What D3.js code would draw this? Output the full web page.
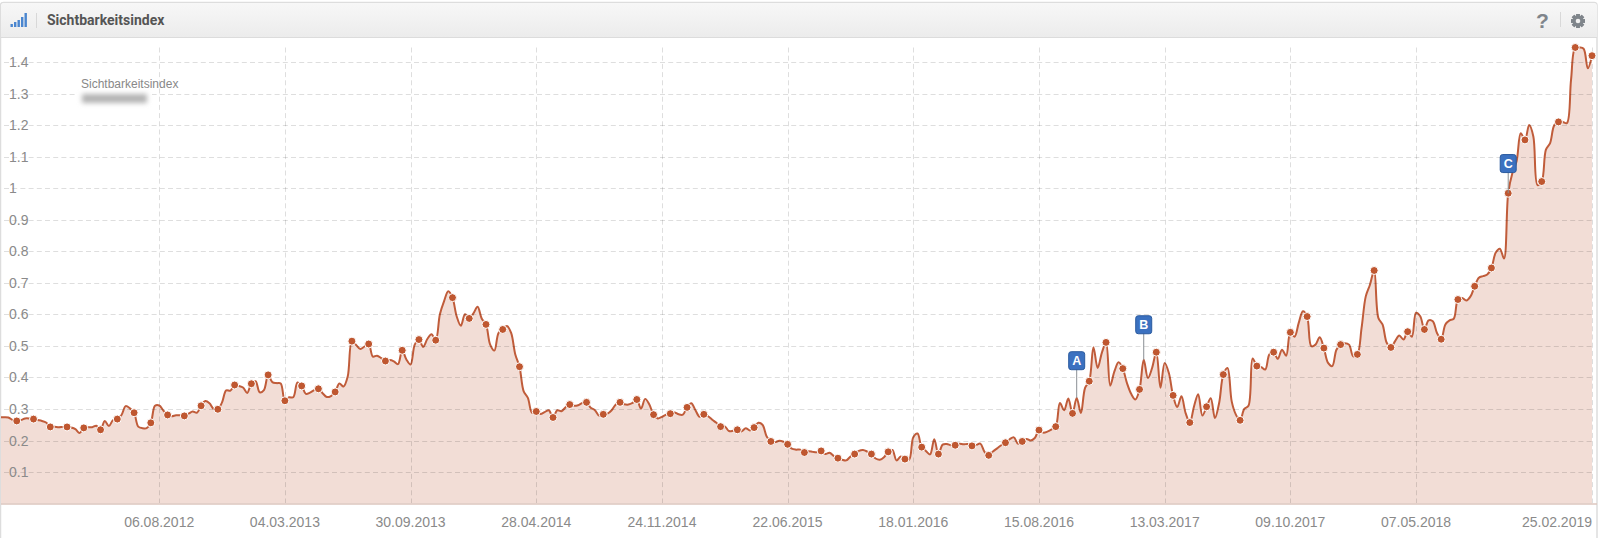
<!DOCTYPE html>
<html><head><meta charset="utf-8">
<script src="https://cdn.jsdelivr.net/npm/d3@7"></script>
<style>
html,body{margin:0;padding:0;background:#fff;width:1599px;height:538px;overflow:hidden}
svg{display:block}
</style></head><body>
<svg id="c" width="1599" height="538"></svg>
<script>
const titleText = "Sichtbarkeitsindex";
const startDate = "2011-11-14";
const yTicks = [0.1,0.2,0.3,0.4,0.5,0.6,0.7,0.8,0.9,1,1.1,1.2,1.3,1.4];
const xTickDates = ["2012-08-06","2013-03-04","2013-09-30","2014-04-28","2014-11-24","2015-06-22","2016-01-18","2016-08-15","2017-03-13","2017-10-09","2018-05-07","2019-02-25"];
const annotationLabels = ["A","B","C"];
const annotationWeeks = [257,273,360];
const annotationFlagValues = [0.453,0.567,1.078];
const weeklyValues = [
.274,.274,.273,.265,.262,.265,.27,.27,.268,.265,.262,.257,.243,.244,.242,.243,.243,.241,.236,.224,
.24,.242,.242,.247,.234,.262,.246,.265,.268,.281,.309,.302,.288,.244,.239,.239,.256,.31,.311,.295,
.281,.277,.28,.28,.278,.285,.292,.288,.31,.325,.318,.30,.299,.321,.359,.358,.376,.373,.368,.351,
.38,.388,.353,.36,.408,.385,.382,.381,.326,.337,.337,.384,.373,.348,.352,.36,.364,.35,.338,.341,
.354,.381,.371,.403,.515,.503,.49,.498,.506,.466,.469,.461,.452,.455,.451,.442,.486,.457,.441,.504,
.52,.497,.522,.537,.518,.6,.642,.673,.653,.594,.564,.6,.587,.603,.624,.586,.568,.504,.485,.541,
.552,.563,.541,.473,.434,.356,.335,.288,.292,.284,.29,.296,.273,.296,.293,.305,.314,.31,.312,.319,
.321,.304,.296,.279,.283,.285,.296,.314,.321,.315,.314,.319,.33,.301,.332,.314,.282,.27,.275,.282,
.285,.289,.283,.282,.305,.318,.296,.275,.283,.277,.266,.256,.244,.245,.23,.231,.234,.229,.239,.232,
.241,.256,.25,.213,.197,.195,.199,.196,.188,.174,.171,.171,.162,.166,.164,.163,.167,.157,.161,.151,
.144,.139,.137,.149,.157,.167,.17,.165,.157,.143,.139,.147,.164,.17,.137,.149,.141,.139,.21,.222,
.179,.167,.156,.204,.157,.187,.189,.185,.185,.19,.188,.189,.183,.186,.19,.164,.153,.165,.175,.185,
.193,.204,.21,.19,.197,.205,.2,.208,.233,.225,.228,.235,.244,.319,.296,.333,.286,.335,.287,.367,
.388,.496,.43,.478,.511,.374,.419,.448,.428,.382,.348,.33,.362,.456,.398,.43,.48,.367,.446,.414,
.343,.306,.34,.287,.257,.308,.347,.279,.307,.334,.271,.319,.409,.43,.324,.282,.264,.30,.31,.46,
.436,.433,.425,.473,.48,.459,.488,.469,.543,.529,.573,.61,.593,.499,.504,.527,.493,.446,.436,.488,
.504,.508,.504,.467,.473,.557,.657,.694,.739,.589,.568,.51,.495,.515,.533,.52,.545,.529,.605,.594,
.552,.581,.578,.541,.521,.568,.581,.586,.647,.652,.644,.657,.689,.716,.721,.726,.747,.795,.808,.777,
.984,1.048,1.085,1.174,1.153,1.2,1.164,1.01,1.021,1.122,1.143,1.2,1.21,1.21,1.206,1.344,1.446,1.446,1.442,1.38,
1.42
];
const markerEvery = 4;

const parse = d3.utcParse("%Y-%m-%d"), fmt = d3.utcFormat("%d.%m.%Y");
const start = parse(startDate);
const series = weeklyValues.map((v,i)=>({date:d3.utcDay.offset(start,i*7),value:v,i}));
const annotations = annotationLabels.map((label,k)=>({label,index:annotationWeeks[k],flag:annotationFlagValues[k]}));
const x = d3.scaleUtc().domain([start,series[series.length-1].date]).range([0,1592]);
const y = d3.scaleLinear().domain([0,1.4]).range([503.6,62]);
const svg = d3.select("#c");
const defs = svg.append("defs");
const grad = defs.append("linearGradient").attr("id","hdr").attr("x1",0).attr("x2",0).attr("y1",0).attr("y2",1);
grad.append("stop").attr("offset",0).attr("stop-color","#f7f7f7");
grad.append("stop").attr("offset",1).attr("stop-color","#ececec");
defs.append("filter").attr("id","blur").attr("x","-20%").attr("y","-100%").attr("width","140%").attr("height","300%")
  .append("feGaussianBlur").attr("stdDeviation",2.4);
defs.append("clipPath").attr("id","plot").append("rect").attr("x",1).attr("y",38).attr("width",1595).attr("height",466);

// panel
svg.append("rect").attr("x",.5).attr("y",2.5).attr("width",1596.5).attr("height",540).attr("rx",3)
  .attr("fill","#fff").attr("stroke","#ddd").attr("stroke-width",1.5);
svg.append("path").attr("d","M1,37V6a3,3 0 0 1 3,-3H1594a3,3 0 0 1 3,3V37Z").attr("fill","url(#hdr)");
svg.append("line").attr("x1",1).attr("x2",1597).attr("y1",37.5).attr("y2",37.5).attr("stroke","#dcdcdc");
// signal icon
const iconBars=[3,5,7,10,14];
svg.append("g").selectAll("rect").data(iconBars).join("rect")
  .attr("x",(d,i)=>10.5+i*3.5).attr("y",d=>27-d).attr("width",2.4).attr("height",d=>d).attr("fill","#4a86cf");
svg.append("line").attr("x1",36.5).attr("x2",36.5).attr("y1",13).attr("y2",28).attr("stroke","#d8d8d8");
svg.append("text").attr("x",47).attr("y",25).text(titleText)
  .attr("font-family","Roboto").attr("font-weight",700).attr("font-size",14).attr("fill","#555");
svg.append("text").attr("x",1542.5).attr("y",28).attr("text-anchor","middle").text("?")
  .attr("font-family","Liberation Sans").attr("font-weight",700).attr("font-size",21).attr("fill","#7f858b");
svg.append("line").attr("x1",1560.5).attr("x2",1560.5).attr("y1",12).attr("y2",27).attr("stroke","#d8d8d8");
// gear icon
const gear = svg.append("g").attr("transform","translate(1578,21)").attr("fill","#7f858b");
d3.range(8).forEach(k=>gear.append("rect").attr("x",-1.8).attr("y",-7).attr("width",3.6).attr("height",14).attr("transform",`rotate(${k*45})`));
gear.append("circle").attr("r",5.2);
gear.append("circle").attr("r",2.3).attr("fill","#f1f1f1");

// area (under grid)
const curve = d3.curveCatmullRom.alpha(0.5);
const area = d3.area().x(d=>x(d.date)).y0(y(0)).y1(d=>y(d.value)).curve(curve);
const line = d3.line().x(d=>x(d.date)).y(d=>y(d.value)).curve(curve);
const gPlot = svg.append("g").attr("clip-path","url(#plot)");
gPlot.append("path").datum(series).attr("d",area).attr("fill","#f2ddd6");

// grid
const dash="5 3.2";
svg.append("g").selectAll("line").data(yTicks).join("line")
  .attr("x1",4).attr("x2",1592).attr("y1",d=>Math.round(y(d))+.5).attr("y2",d=>Math.round(y(d))+.5)
  .attr("stroke","#000").attr("stroke-opacity",.13).attr("stroke-dasharray",dash);
svg.append("g").selectAll("line").data(xTickDates).join("line")
  .attr("x1",d=>Math.round(x(parse(d)))+.5).attr("x2",d=>Math.round(x(parse(d)))+.5).attr("y1",47.5).attr("y2",503)
  .attr("stroke","#000").attr("stroke-opacity",.13).attr("stroke-dasharray",dash);
svg.append("line").attr("x1",1).attr("x2",1597).attr("y1",504).attr("y2",504).attr("stroke","#dcc6be").attr("stroke-width",1.5);

// value legend block
svg.append("rect").attr("x",76).attr("y",91).attr("width",76).attr("height",16).attr("fill","#fff");
svg.append("rect").attr("x",82).attr("y",94).attr("width",65).attr("height",9).attr("fill","#b4b4b4").attr("filter","url(#blur)");
svg.append("text").attr("x",81).attr("y",87.5).text(titleText)
  .attr("font-family","Liberation Sans").attr("font-size",12).attr("fill","#888");

// axis labels
svg.append("g").selectAll("text").data(yTicks).join("text")
  .attr("x",9).attr("y",d=>y(d)+5).text(d=>d)
  .attr("font-family","Liberation Sans").attr("font-size",14).attr("fill","#8a8a8a");
svg.append("g").selectAll("text").data(xTickDates).join("text")
  .attr("x",d=>x(parse(d)))
  .attr("text-anchor",(d,i)=>i===xTickDates.length-1?"end":"middle")
  .attr("y",527).text(d=>fmt(parse(d)))
  .attr("font-family","Liberation Sans").attr("font-size",14).attr("fill","#8a8a8a");

// line + markers
gPlot.append("path").datum(series).attr("d",line).attr("fill","none").attr("stroke","#c05c3a").attr("stroke-width",2);
svg.append("g").selectAll("circle").data(series.filter(d=>d.i%markerEvery===0&&d.i>0)).join("circle")
  .attr("cx",d=>x(d.date)).attr("cy",d=>y(d.value)).attr("r",4)
  .attr("fill","#bf5730").attr("stroke","#fff").attr("stroke-width",1);

// annotation stems and flags
svg.append("g").selectAll("line").data(annotations).join("line")
  .attr("x1",d=>x(series[d.index].date)).attr("x2",d=>x(series[d.index].date))
  .attr("y1",d=>y(d.flag)).attr("y2",d=>y(series[d.index].value))
  .attr("stroke","#8a8f94").attr("stroke-width",1);
const flag = svg.append("g").selectAll("g").data(annotations).join("g")
  .attr("transform",d=>`translate(${x(series[d.index].date)},${y(d.flag)})`);
flag.append("rect").attr("x",-8).attr("y",-9).attr("width",16).attr("height",18).attr("rx",2.5)
  .attr("fill","#3b71c0").attr("stroke","#2a5a9e").attr("stroke-width",1);
flag.append("text").attr("y",4.5).attr("text-anchor","middle").text(d=>d.label)
  .attr("font-family","Liberation Sans").attr("font-weight",700).attr("font-size",12.5).attr("fill","#fff");
</script>
</body></html>
